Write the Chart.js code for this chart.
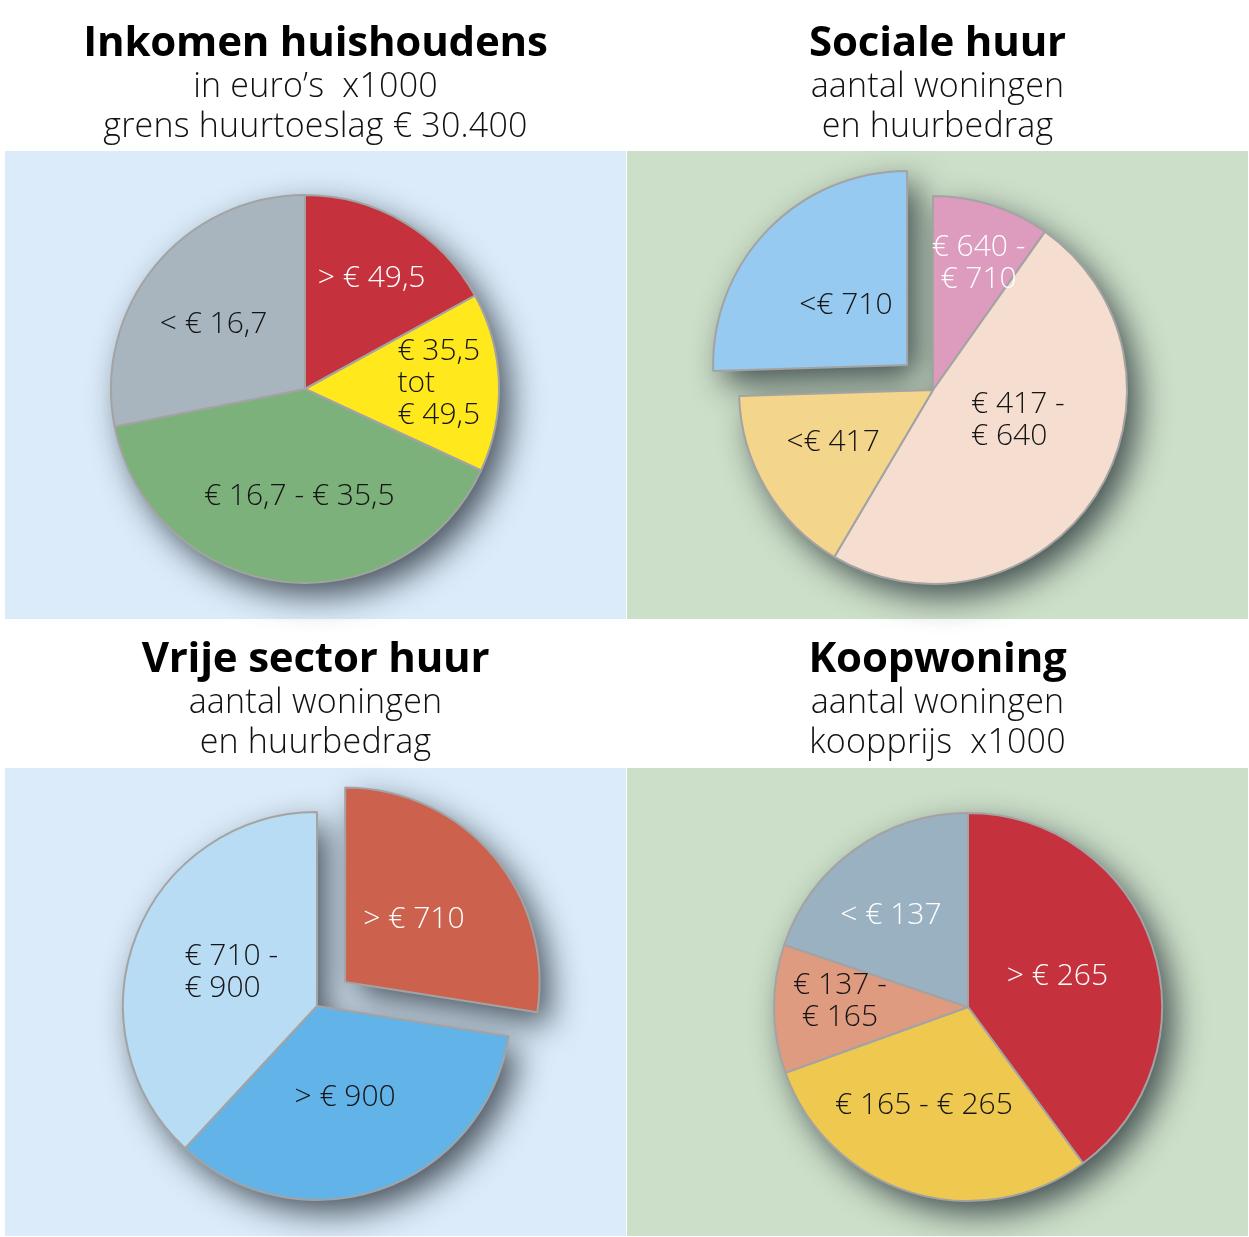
<!DOCTYPE html>
<html>
<head>
<meta charset="utf-8">
<script src="https://cdn.jsdelivr.net/npm/chart.js@4.4.1/dist/chart.umd.min.js"></script>
<style>
  html, body { margin: 0; padding: 0; background: #fff; width: 1249px; height: 1237px; overflow: hidden; }
  .box { position: absolute; z-index: 0; }
  .wrap { position: absolute; z-index: 1; }
  .hdr { position: absolute; z-index: 2; text-align: center; font-family: "Open Sans", sans-serif; color: #111; white-space: pre; }
  .hdr .t { font-weight: 700; font-size: 42px; line-height: 43px; height: 43px; color: #000; letter-spacing: -0.2px; margin-bottom: 3px; }
  .hdr .s { font-weight: 300; font-size: 34px; line-height: 40px; height: 40px; letter-spacing: 0.2px; }
</style>
</head>
<body>
<div id="root"></div>
<script>
// ---------- data ----------
const incomeCategories = ['> € 49,5', ['€ 35,5', 'tot', '€ 49,5'], '€ 16,7 - € 35,5', '< € 16,7'];
const incomeShares = [17.0, 14.9, 40.0, 28.1];

const socialCategories = [['€ 640 -', '€ 710'], ['€ 417 -', '€ 640'], '<€ 417', '<€ 710'];
const socialShares = [9.8, 48.7, 16.0, 25.5];

const privateCategories = ['> € 710', '> € 900', ['€ 710 -', '€ 900']];
const privateShares = [27.5, 34.4, 38.1];

const ownerCategories = ['> € 265', '€ 165 - € 265', ['€ 137 -', '€ 165'], '< € 137'];
const ownerShares = [39.9, 29.6, 10.7, 19.8];

const headerTitles = ['Inkomen huishoudens', 'Sociale huur', 'Vrije sector huur', 'Koopwoning'];
const headerSubtitles = [
  ['in euro’s  x1000', 'grens huurtoeslag € 30.400'],
  ['aantal woningen', 'en huurbedrag'],
  ['aantal woningen', 'en huurbedrag'],
  ['aantal woningen', 'koopprijs  x1000']
];

// ---------- styling / layout ----------
const BLUE_BG = '#DBEBF9';
const GREEN_BG = '#CCDFC8';
const DARK = '#141414';
const WHITE = '#ffffff';
const M = 40; // canvas margin around each box (room for shadow)

const panels = [
  { box: [5, 151, 621, 468], bg: BLUE_BG, center: [305, 389], radius: 194,
    header: { x: 5, w: 621, top: 18 },
    cats: incomeCategories, vals: incomeShares,
    colors: ['#C5323D', '#FFE91D', '#7DB17B', '#A8B5BF'],
    offsets: [0, 0, 0, 0],
    textColors: [WHITE, DARK, DARK, DARK],
    place: [ {f: 0.665, dx: 1, dy: 0}, {f: 0.69, dx: 0, dy: -1, align: 'left'}, {f: 0.55, dx: 7, dy: 2}, {f: 0.57, dx: -6, dy: 6} ] },
  { box: [627, 151, 621, 468], bg: GREEN_BG, center: [933, 390], radius: 194,
    header: { x: 627, w: 621, top: 18 },
    cats: socialCategories, vals: socialShares,
    colors: ['#DD9BBD', '#F5DDD0', '#F3D68B', '#97CAF0'],
    offsets: [0, 0, 0, 144],
    textColors: [WHITE, DARK, DARK, DARK],
    place: [ {f: 0.69, dx: 5, dy: 1}, {f: 0.46, dx: 10, dy: -18, align: 'left'}, {f: 0.58, dx: -3, dy: -5}, {f: 0.44, dx: 0, dy: 0} ] },
  { box: [5, 768, 621, 468], bg: BLUE_BG, center: [317, 1006], radius: 194,
    header: { x: 5, w: 621, top: 634 },
    cats: privateCategories, vals: privateShares,
    colors: ['#CC614D', '#62B3E8', '#B7DCF4'],
    offsets: [148, 0, 0],
    textColors: [WHITE, DARK, DARK],
    place: [ {f: 0.48, dx: -2, dy: -2}, {f: 0.49, dx: -3, dy: 2}, {f: 0.48, dx: 1, dy: 0, align: 'left'} ] },
  { box: [627, 768, 621, 468], bg: GREEN_BG, center: [968, 1007], radius: 194,
    header: { x: 627, w: 621, top: 634 },
    cats: ownerCategories, vals: ownerShares,
    colors: ['#C5323D', '#EFC94F', '#DF9B80', '#9AB1C2'],
    offsets: [0, 0, 0, 0],
    textColors: [WHITE, DARK, DARK, WHITE],
    place: [ {f: 0.48, dx: 1, dy: -1}, {f: 0.55, dx: -13, dy: -4}, {f: 0.66, dx: 0, dy: -7}, {f: 0.62, dx: -7, dy: 6} ] }
];

function arcGeom(arc) {
  const p = arc.getProps(['x', 'y', 'startAngle', 'endAngle', 'outerRadius'], true);
  const mid = (p.startAngle + p.endAngle) / 2;
  const t = (arc.options.offset || 0) / 4;
  return { cx: p.x + Math.cos(mid) * t, cy: p.y + Math.sin(mid) * t, r: p.outerRadius,
           start: p.startAngle, end: p.endAngle, mid };
}

const shadowPlugin = {
  id: 'pieShadow',
  beforeDatasetsDraw(chart) {
    const ctx = chart.ctx;
    const meta = chart.getDatasetMeta(0);
    ctx.save();
    ctx.shadowColor = 'rgba(15,25,35,0.72)';
    ctx.shadowBlur = 32;
    ctx.shadowOffsetX = 11;
    ctx.shadowOffsetY = 13;
    ctx.fillStyle = '#9a9a9a';
    ctx.beginPath();
    meta.data.forEach(arc => {
      const g = arcGeom(arc);
      ctx.moveTo(g.cx, g.cy);
      ctx.arc(g.cx, g.cy, g.r, g.start, g.end);
      ctx.closePath();
    });
    ctx.fill();
    ctx.restore();
  }
};

function makeLabelPlugin(cfg) {
  return {
    id: 'sliceLabels',
    afterDatasetsDraw(chart) {
      const ctx = chart.ctx;
      const meta = chart.getDatasetMeta(0);
      const cats = chart.data.labels;
      const lh = 32;
      ctx.save();
      ctx.font = '300 30px "Open Sans"';
      ctx.textBaseline = 'middle';
      meta.data.forEach((arc, i) => {
        const g = arcGeom(arc);
        const pl = cfg.place[i];
        const d = g.r * pl.f;
        const x = g.cx + Math.cos(g.mid) * d + (pl.dx || 0);
        const y = g.cy + Math.sin(g.mid) * d + (pl.dy || 0);
        const lines = Array.isArray(cats[i]) ? cats[i] : [cats[i]];
        const w = Math.max(...lines.map(l => ctx.measureText(l).width));
        ctx.fillStyle = cfg.textColors[i];
        lines.forEach((l, k) => {
          const ly = y + (k - (lines.length - 1) / 2) * lh;
          if (pl.align === 'left') { ctx.textAlign = 'left'; ctx.fillText(l, x - w / 2, ly); }
          else { ctx.textAlign = 'center'; ctx.fillText(l, x, ly); }
        });
      });
      ctx.restore();
    }
  };
}

const root = document.getElementById('root');

panels.forEach((p, idx) => {
  const [bx, by, bw, bh] = p.box;
  const box = document.createElement('div');
  box.className = 'box';
  Object.assign(box.style, { left: bx + 'px', top: by + 'px', width: bw + 'px', height: bh + 'px', background: p.bg });
  root.appendChild(box);

  // header
  const hdr = document.createElement('div');
  hdr.className = 'hdr';
  Object.assign(hdr.style, { left: p.header.x + 'px', width: p.header.w + 'px', top: p.header.top + 'px' });
  const t = document.createElement('div'); t.className = 't'; t.textContent = headerTitles[idx]; hdr.appendChild(t);
  headerSubtitles[idx].forEach(s => { const d = document.createElement('div'); d.className = 's'; d.textContent = s; hdr.appendChild(d); });
  root.appendChild(hdr);

  // canvas
  const cw = bw + 2 * M, ch = bh + 2 * M;
  const cl = bx - M, ct = by - M;
  const wrap = document.createElement('div');
  wrap.className = 'wrap';
  Object.assign(wrap.style, { left: cl + 'px', top: ct + 'px', width: cw + 'px', height: ch + 'px' });
  const cv = document.createElement('canvas');
  cv.width = cw; cv.height = ch;
  cv.style.width = cw + 'px'; cv.style.height = ch + 'px';
  wrap.appendChild(cv);
  root.appendChild(wrap);

  const lx = p.center[0] - cl, ly = p.center[1] - ct;
  const pad = {
    left: lx > cw / 2 ? 2 * lx - cw : 0,
    right: lx < cw / 2 ? cw - 2 * lx : 0,
    top: ly > ch / 2 ? 2 * ly - ch : 0,
    bottom: ly < ch / 2 ? ch - 2 * ly : 0
  };

  new Chart(cv, {
    type: 'pie',
    data: {
      labels: p.cats,
      datasets: [{
        data: p.vals,
        backgroundColor: p.colors,
        borderColor: '#A3A3A3',
        borderWidth: 2,
        offset: p.offsets,
        hoverOffset: 0
      }]
    },
    options: {
      responsive: false,
      animation: false,
      events: [],
      radius: p.radius,
      layout: { padding: pad },
      plugins: { legend: { display: false }, tooltip: { enabled: false } }
    },
    plugins: [shadowPlugin, makeLabelPlugin(p)]
  });
});
</script>
</body>
</html>
